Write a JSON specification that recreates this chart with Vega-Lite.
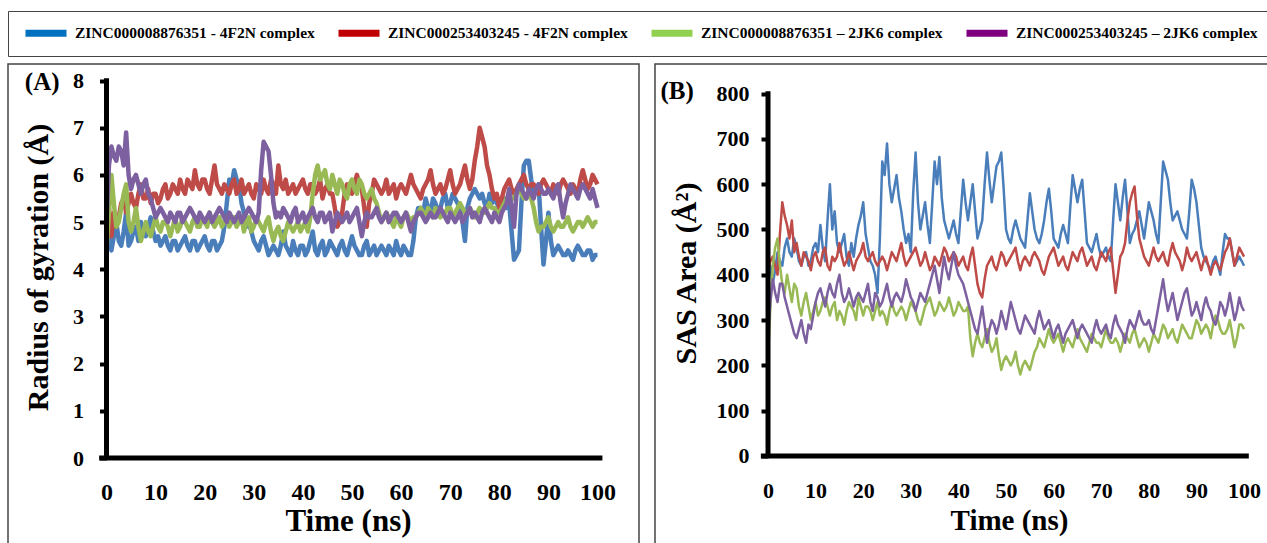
{
  "$schema": "https://vega.github.io/schema/vega-lite/v6.json",
  "padding": {"left": 7, "top": 10, "right": 0, "bottom": 0},
  "autosize": {"type": "pad"},
  "background": "white",
  "spacing": 14,
  "config": {
    "font": "Liberation Serif",
    "view": {"stroke": "#444444", "strokeWidth": 1.5},
    "axis": {
      "domain": false, "grid": false,
      "labelFont": "Liberation Serif", "labelFontWeight": "bold", "labelColor": "black",
      "titleFont": "Liberation Serif", "titleFontWeight": "bold", "titleColor": "black",
      "tickColor": "black", "labelFlush": false, "labelOverlap": false
    }
  },
  "datasets": {
    "names": [
      {"k": "b", "name": "ZINC000008876351 - 4F2N complex"},
      {"k": "r", "name": "ZINC000253403245 - 4F2N complex"},
      {"k": "g", "name": "ZINC000008876351 – 2JK6 complex"},
      {"k": "p", "name": "ZINC000253403245 – 2JK6 complex"}
    ],
    "rg": [
      {"t":0,"b":4.6,"r":5.0,"g":4.4,"p":5.0},{"t":1,"b":4.4,"r":4.7,"g":6.0,"p":6.6},{"t":2,"b":5.0,"r":4.9,"g":4.9,"p":6.3},{"t":3,"b":4.5,"r":5.4,"g":5.3,"p":6.5},{"t":4,"b":5.2,"r":5.2,"g":5.8,"p":6.9},
      {"t":5,"b":4.6,"r":5.6,"g":4.8,"p":5.7},{"t":6,"b":4.9,"r":5.3,"g":5.3,"p":6.0},{"t":7,"b":5.0,"r":5.8,"g":4.6,"p":5.6},{"t":8,"b":4.7,"r":5.5,"g":5.0,"p":5.9},{"t":9,"b":5.1,"r":5.4,"g":4.7,"p":5.5},
      {"t":10,"b":4.6,"r":5.6,"g":5.1,"p":5.1},{"t":11,"b":4.5,"r":5.5,"g":4.8,"p":5.3},{"t":12,"b":4.7,"r":5.8,"g":5.0,"p":5.1},{"t":13,"b":4.4,"r":5.6,"g":4.7,"p":5.2},{"t":14,"b":4.6,"r":5.7,"g":5.1,"p":5.0},
      {"t":15,"b":4.5,"r":5.9,"g":4.9,"p":5.2},{"t":16,"b":4.7,"r":5.6,"g":5.0,"p":5.1},{"t":17,"b":4.4,"r":5.8,"g":4.8,"p":5.3},{"t":18,"b":4.6,"r":6.1,"g":5.1,"p":5.1},{"t":19,"b":4.5,"r":5.7,"g":4.9,"p":5.2},
      {"t":20,"b":4.7,"r":5.9,"g":5.0,"p":5.0},{"t":21,"b":4.4,"r":5.6,"g":5.2,"p":5.2},{"t":22,"b":4.6,"r":6.2,"g":4.9,"p":5.1},{"t":23,"b":4.5,"r":5.7,"g":5.1,"p":5.3},{"t":24,"b":4.9,"r":5.8,"g":5.0,"p":5.1},
      {"t":25,"b":5.9,"r":5.6,"g":4.9,"p":5.2},{"t":26,"b":6.1,"r":5.9,"g":5.1,"p":5.0},{"t":27,"b":5.8,"r":5.7,"g":5.0,"p":5.2},{"t":28,"b":5.2,"r":5.6,"g":4.8,"p":5.1},{"t":29,"b":5.0,"r":5.8,"g":5.1,"p":5.3},
      {"t":30,"b":4.6,"r":5.5,"g":4.9,"p":5.1},{"t":31,"b":4.4,"r":5.7,"g":5.0,"p":5.2},{"t":32,"b":4.7,"r":5.9,"g":4.8,"p":6.7},{"t":33,"b":4.3,"r":5.6,"g":5.1,"p":6.5},{"t":34,"b":4.5,"r":5.8,"g":4.6,"p":5.4},
      {"t":35,"b":4.3,"r":6.2,"g":4.9,"p":5.2},{"t":36,"b":4.8,"r":5.7,"g":4.6,"p":5.3},{"t":37,"b":4.4,"r":5.6,"g":5.0,"p":5.1},{"t":38,"b":4.6,"r":5.8,"g":4.8,"p":5.2},{"t":39,"b":4.3,"r":5.7,"g":5.0,"p":5.0},
      {"t":40,"b":4.5,"r":5.9,"g":4.9,"p":5.2},{"t":41,"b":4.4,"r":5.6,"g":4.8,"p":5.1},{"t":42,"b":4.8,"r":5.8,"g":5.6,"p":5.3},{"t":43,"b":4.3,"r":5.7,"g":6.2,"p":5.0},{"t":44,"b":4.6,"r":5.5,"g":6.0,"p":5.2},
      {"t":45,"b":4.4,"r":5.8,"g":5.8,"p":5.1},{"t":46,"b":4.5,"r":5.6,"g":6.0,"p":4.8},{"t":47,"b":4.3,"r":4.9,"g":5.6,"p":5.2},{"t":48,"b":4.6,"r":5.2,"g":5.8,"p":5.0},{"t":49,"b":4.3,"r":5.8,"g":5.5,"p":5.2},
      {"t":50,"b":4.7,"r":5.6,"g":5.9,"p":5.1},{"t":51,"b":4.4,"r":6.0,"g":5.6,"p":5.3},{"t":52,"b":4.3,"r":5.7,"g":5.8,"p":4.7},{"t":53,"b":4.6,"r":4.9,"g":5.5,"p":5.2},{"t":54,"b":4.4,"r":5.6,"g":5.7,"p":5.1},
      {"t":55,"b":4.3,"r":5.8,"g":5.4,"p":5.3},{"t":56,"b":4.5,"r":5.6,"g":5.0,"p":5.0},{"t":57,"b":4.3,"r":5.9,"g":5.2,"p":5.2},{"t":58,"b":4.4,"r":5.7,"g":5.0,"p":5.1},{"t":59,"b":4.6,"r":5.5,"g":5.1,"p":5.2},
      {"t":60,"b":4.3,"r":5.8,"g":4.9,"p":5.0},{"t":61,"b":4.4,"r":5.6,"g":5.2,"p":5.2},{"t":62,"b":4.3,"r":6.0,"g":5.0,"p":4.8},{"t":63,"b":5.1,"r":5.7,"g":5.1,"p":5.1},{"t":64,"b":5.3,"r":5.5,"g":5.3,"p":5.2},
      {"t":65,"b":5.5,"r":5.8,"g":5.1,"p":5.0},{"t":66,"b":5.2,"r":6.1,"g":5.2,"p":5.2},{"t":67,"b":5.4,"r":5.6,"g":5.3,"p":5.1},{"t":68,"b":5.3,"r":5.8,"g":5.1,"p":5.3},{"t":69,"b":5.6,"r":5.7,"g":5.2,"p":5.1},
      {"t":70,"b":5.4,"r":6.1,"g":5.3,"p":5.2},{"t":71,"b":5.5,"r":5.6,"g":5.2,"p":5.0},{"t":72,"b":5.3,"r":5.8,"g":5.4,"p":5.2},{"t":73,"b":4.6,"r":6.2,"g":5.2,"p":5.1},{"t":74,"b":5.5,"r":5.7,"g":5.3,"p":5.3},
      {"t":75,"b":5.7,"r":6.3,"g":5.1,"p":5.2},{"t":76,"b":5.5,"r":7.0,"g":5.3,"p":5.0},{"t":77,"b":5.4,"r":6.6,"g":5.2,"p":5.3},{"t":78,"b":5.6,"r":6.0,"g":5.4,"p":5.1},{"t":79,"b":5.5,"r":5.5,"g":5.3,"p":5.2},
      {"t":80,"b":5.3,"r":5.3,"g":5.2,"p":5.0},{"t":81,"b":5.5,"r":5.7,"g":5.4,"p":5.3},{"t":82,"b":5.4,"r":5.9,"g":5.6,"p":5.7},{"t":83,"b":4.2,"r":5.6,"g":5.5,"p":4.9},{"t":84,"b":4.4,"r":5.8,"g":5.7,"p":5.8},
      {"t":85,"b":6.2,"r":6.0,"g":5.5,"p":5.6},{"t":86,"b":6.3,"r":5.7,"g":5.6,"p":5.7},{"t":87,"b":5.6,"r":5.8,"g":5.3,"p":5.5},{"t":88,"b":5.8,"r":5.6,"g":4.8,"p":5.8},{"t":89,"b":4.1,"r":5.9,"g":4.9,"p":5.6},
      {"t":90,"b":5.2,"r":5.7,"g":5.1,"p":5.7},{"t":91,"b":4.3,"r":5.8,"g":4.8,"p":5.5},{"t":92,"b":4.5,"r":5.6,"g":5.0,"p":5.8},{"t":93,"b":4.3,"r":5.9,"g":4.9,"p":5.1},{"t":94,"b":4.4,"r":5.7,"g":5.1,"p":5.6},
      {"t":95,"b":4.2,"r":5.8,"g":4.8,"p":5.7},{"t":96,"b":4.5,"r":5.6,"g":5.0,"p":5.5},{"t":97,"b":4.3,"r":6.1,"g":4.9,"p":5.8},{"t":98,"b":4.4,"r":5.7,"g":5.1,"p":5.6},{"t":99,"b":4.2,"r":6.0,"g":4.9,"p":5.7},
      {"t":100,"b":4.3,"r":5.8,"g":5.0,"p":5.3},
      {"t":0.5,"b":4.9,"r":5.3,"g":5.2,"p":6.2},{"t":1.5,"b":4.7,"r":5.2,"g":5.4,"p":6.4},{"t":2.5,"b":4.6,"r":5.1,"g":5.0,"p":6.6},{"t":3.5,"b":4.8,"r":5.5,"g":5.6,"p":6.2},{"t":4.5,"b":4.5,"r":5.4,"g":5.0,"p":6.0},
      {"t":5.5,"b":4.8,"r":5.4,"g":5.0,"p":5.9},{"t":6.5,"b":4.6,"r":5.6,"g":4.9,"p":5.8},{"t":7.5,"b":4.8,"r":5.5,"g":4.8,"p":5.8},{"t":8.5,"b":4.9,"r":5.7,"g":4.8,"p":5.6},{"t":9.5,"b":4.8,"r":5.6,"g":4.9,"p":5.3},
      {"t":10.5,"b":4.7,"r":5.4,"g":4.9,"p":5.2},{"t":11.5,"b":4.6,"r":5.7,"g":5.0,"p":5.2},{"t":12.5,"b":4.5,"r":5.5,"g":4.9,"p":5.0},{"t":13.5,"b":4.6,"r":5.8,"g":4.9,"p":5.1},{"t":14.5,"b":4.4,"r":5.6,"g":4.8,"p":5.2},
      {"t":15.5,"b":4.6,"r":5.7,"g":5.1,"p":5.0},{"t":16.5,"b":4.5,"r":5.9,"g":4.9,"p":5.2},{"t":17.5,"b":4.6,"r":5.7,"g":5.0,"p":5.2},{"t":18.5,"b":4.4,"r":5.8,"g":4.9,"p":5.0},{"t":19.5,"b":4.6,"r":5.9,"g":5.1,"p":5.1},
      {"t":20.5,"b":4.5,"r":5.7,"g":4.9,"p":5.1},{"t":21.5,"b":4.6,"r":5.9,"g":5.0,"p":5.0},{"t":22.5,"b":4.4,"r":5.8,"g":5.0,"p":5.2},{"t":23.5,"b":4.6,"r":5.6,"g":4.9,"p":5.2},{"t":24.5,"b":5.4,"r":5.7,"g":5.1,"p":5.0},
      {"t":25.5,"b":5.8,"r":5.8,"g":5.0,"p":5.1},{"t":26.5,"b":5.9,"r":5.6,"g":4.9,"p":5.1},{"t":27.5,"b":5.4,"r":5.9,"g":5.1,"p":5.0},{"t":28.5,"b":4.9,"r":5.7,"g":5.0,"p":5.2},{"t":29.5,"b":4.8,"r":5.6,"g":4.8,"p":5.2},
      {"t":30.5,"b":4.5,"r":5.8,"g":5.1,"p":5.0},{"t":31.5,"b":4.6,"r":5.6,"g":4.9,"p":6.1},{"t":32.5,"b":4.5,"r":5.7,"g":5.0,"p":6.6},{"t":33.5,"b":4.4,"r":5.9,"g":4.8,"p":6.0},{"t":34.5,"b":4.4,"r":5.6,"g":4.8,"p":5.1},
      {"t":35.5,"b":4.5,"r":5.8,"g":4.7,"p":5.1},{"t":36.5,"b":4.5,"r":5.9,"g":4.8,"p":5.2},{"t":37.5,"b":4.3,"r":5.7,"g":4.9,"p":5.0},{"t":38.5,"b":4.4,"r":5.6,"g":4.9,"p":5.3},{"t":39.5,"b":4.5,"r":5.8,"g":4.8,"p":5.1},
      {"t":40.5,"b":4.3,"r":5.7,"g":5.0,"p":5.0},{"t":41.5,"b":4.6,"r":5.8,"g":5.1,"p":5.2},{"t":42.5,"b":4.4,"r":5.6,"g":6.0,"p":5.1},{"t":43.5,"b":4.5,"r":5.9,"g":5.9,"p":5.2},{"t":44.5,"b":4.3,"r":5.7,"g":6.1,"p":5.0},
      {"t":45.5,"b":4.6,"r":5.6,"g":5.7,"p":5.2},{"t":46.5,"b":4.4,"r":5.3,"g":5.8,"p":5.0},{"t":47.5,"b":4.5,"r":5.0,"g":5.9,"p":5.1},{"t":48.5,"b":4.4,"r":5.6,"g":5.6,"p":5.1},{"t":49.5,"b":4.5,"r":5.7,"g":5.8,"p":5.0},
      {"t":50.5,"b":4.5,"r":5.8,"g":5.7,"p":5.2},{"t":51.5,"b":4.3,"r":5.8,"g":5.9,"p":5.0},{"t":52.5,"b":4.5,"r":5.3,"g":5.6,"p":5.0},{"t":53.5,"b":4.3,"r":5.4,"g":5.6,"p":5.1},{"t":54.5,"b":4.5,"r":5.9,"g":5.5,"p":5.2},
      {"t":55.5,"b":4.4,"r":5.7,"g":5.2,"p":5.1},{"t":56.5,"b":4.4,"r":5.7,"g":5.1,"p":5.1},{"t":57.5,"b":4.5,"r":5.6,"g":5.1,"p":5.0},{"t":58.5,"b":4.3,"r":5.8,"g":4.9,"p":5.2},{"t":59.5,"b":4.4,"r":5.7,"g":5.0,"p":5.1},
      {"t":60.5,"b":4.5,"r":5.7,"g":5.1,"p":5.1},{"t":61.5,"b":4.3,"r":5.8,"g":5.1,"p":5.0},{"t":62.5,"b":4.6,"r":5.8,"g":5.1,"p":5.0},{"t":63.5,"b":5.3,"r":5.6,"g":5.2,"p":5.2},{"t":64.5,"b":5.2,"r":5.7,"g":5.2,"p":5.1},
      {"t":65.5,"b":5.3,"r":5.9,"g":5.3,"p":5.1},{"t":66.5,"b":5.5,"r":5.8,"g":5.1,"p":5.1},{"t":67.5,"b":5.2,"r":5.7,"g":5.2,"p":5.2},{"t":68.5,"b":5.5,"r":5.6,"g":5.2,"p":5.2},{"t":69.5,"b":5.3,"r":5.9,"g":5.3,"p":5.0},
      {"t":70.5,"b":5.6,"r":5.8,"g":5.1,"p":5.1},{"t":71.5,"b":5.4,"r":5.7,"g":5.3,"p":5.1},{"t":72.5,"b":5.0,"r":6.0,"g":5.3,"p":5.0},{"t":73.5,"b":5.3,"r":5.9,"g":5.2,"p":5.2},{"t":74.5,"b":5.6,"r":5.9,"g":5.2,"p":5.1},
      {"t":75.5,"b":5.6,"r":6.6,"g":5.2,"p":5.1},{"t":76.5,"b":5.6,"r":6.8,"g":5.2,"p":5.2},{"t":77.5,"b":5.3,"r":6.2,"g":5.3,"p":5.2},{"t":78.5,"b":5.4,"r":5.7,"g":5.3,"p":5.0},{"t":79.5,"b":5.4,"r":5.6,"g":5.2,"p":5.1},
      {"t":80.5,"b":5.4,"r":5.5,"g":5.3,"p":5.2},{"t":81.5,"b":5.3,"r":5.8,"g":5.5,"p":5.4},{"t":82.5,"b":4.8,"r":5.7,"g":5.5,"p":5.3},{"t":83.5,"b":4.3,"r":5.7,"g":5.6,"p":5.6},{"t":84.5,"b":5.4,"r":5.9,"g":5.6,"p":5.7},
      {"t":85.5,"b":6.3,"r":5.8,"g":5.5,"p":5.5},{"t":86.5,"b":5.9,"r":5.8,"g":5.5,"p":5.6},{"t":87.5,"b":5.7,"r":5.7,"g":5.0,"p":5.7},{"t":88.5,"b":4.9,"r":5.8,"g":4.9,"p":5.7},{"t":89.5,"b":4.6,"r":5.8,"g":5.0,"p":5.6},
      {"t":90.5,"b":4.6,"r":5.6,"g":4.9,"p":5.6},{"t":91.5,"b":4.4,"r":5.7,"g":4.9,"p":5.7},{"t":92.5,"b":4.4,"r":5.8,"g":4.9,"p":5.4},{"t":93.5,"b":4.3,"r":5.8,"g":5.0,"p":5.4},{"t":94.5,"b":4.3,"r":5.6,"g":4.9,"p":5.8},
      {"t":95.5,"b":4.4,"r":5.7,"g":4.9,"p":5.6},{"t":96.5,"b":4.4,"r":5.9,"g":5.0,"p":5.7},{"t":97.5,"b":4.3,"r":5.9,"g":5.0,"p":5.7},{"t":98.5,"b":4.4,"r":5.8,"g":5.0,"p":5.5},{"t":99.5,"b":4.3,"r":5.9,"g":5.0,"p":5.5}
    ],
    "sas": [
      {"t":0,"b":400,"r":410,"g":210,"p":260},{"t":1,"b":380,"r":440,"g":420,"p":390},{"t":2,"b":450,"r":400,"g":480,"p":340},{"t":3,"b":420,"r":560,"g":380,"p":380},{"t":4,"b":480,"r":510,"g":400,"p":330},
      {"t":5,"b":440,"r":520,"g":340,"p":290},{"t":6,"b":460,"r":470,"g":370,"p":260},{"t":7,"b":420,"r":420,"g":310,"p":300},{"t":8,"b":450,"r":440,"g":360,"p":250},{"t":9,"b":430,"r":410,"g":300,"p":280},
      {"t":10,"b":470,"r":450,"g":340,"p":340},{"t":11,"b":510,"r":420,"g":320,"p":370},{"t":12,"b":430,"r":460,"g":350,"p":330},{"t":13,"b":600,"r":410,"g":310,"p":380},{"t":14,"b":540,"r":430,"g":340,"p":350},
      {"t":15,"b":450,"r":470,"g":320,"p":400},{"t":16,"b":490,"r":420,"g":290,"p":340},{"t":17,"b":420,"r":450,"g":340,"p":370},{"t":18,"b":440,"r":410,"g":320,"p":330},{"t":19,"b":510,"r":440,"g":350,"p":360},
      {"t":20,"b":560,"r":470,"g":310,"p":340},{"t":21,"b":460,"r":430,"g":330,"p":380},{"t":22,"b":420,"r":450,"g":300,"p":320},{"t":23,"b":360,"r":420,"g":340,"p":350},{"t":24,"b":650,"r":440,"g":320,"p":340},
      {"t":25,"b":690,"r":410,"g":290,"p":380},{"t":26,"b":560,"r":450,"g":340,"p":330},{"t":27,"b":620,"r":430,"g":310,"p":360},{"t":28,"b":540,"r":470,"g":330,"p":340},{"t":29,"b":470,"r":420,"g":300,"p":390},
      {"t":30,"b":450,"r":440,"g":340,"p":350},{"t":31,"b":670,"r":460,"g":320,"p":320},{"t":32,"b":500,"r":420,"g":290,"p":360},{"t":33,"b":560,"r":450,"g":330,"p":340},{"t":34,"b":470,"r":410,"g":350,"p":380},
      {"t":35,"b":650,"r":440,"g":310,"p":420},{"t":36,"b":660,"r":420,"g":340,"p":360},{"t":37,"b":520,"r":460,"g":320,"p":440},{"t":38,"b":480,"r":430,"g":350,"p":390},{"t":39,"b":520,"r":450,"g":310,"p":450},
      {"t":40,"b":470,"r":420,"g":340,"p":400},{"t":41,"b":610,"r":440,"g":320,"p":380},{"t":42,"b":520,"r":410,"g":330,"p":340},{"t":43,"b":600,"r":460,"g":220,"p":300},{"t":44,"b":480,"r":380,"g":270,"p":270},
      {"t":45,"b":520,"r":350,"g":240,"p":330},{"t":46,"b":670,"r":420,"g":280,"p":250},{"t":47,"b":560,"r":440,"g":230,"p":300},{"t":48,"b":640,"r":410,"g":260,"p":270},{"t":49,"b":670,"r":450,"g":190,"p":320},
      {"t":50,"b":500,"r":420,"g":220,"p":280},{"t":51,"b":470,"r":440,"g":200,"p":340},{"t":52,"b":520,"r":460,"g":230,"p":300},{"t":53,"b":480,"r":410,"g":180,"p":270},{"t":54,"b":460,"r":440,"g":210,"p":310},
      {"t":55,"b":580,"r":420,"g":190,"p":290},{"t":56,"b":500,"r":450,"g":230,"p":270},{"t":57,"b":470,"r":430,"g":260,"p":320},{"t":58,"b":520,"r":400,"g":240,"p":280},{"t":59,"b":590,"r":440,"g":280,"p":300},
      {"t":60,"b":480,"r":460,"g":250,"p":260},{"t":61,"b":460,"r":420,"g":270,"p":290},{"t":62,"b":510,"r":440,"g":230,"p":250},{"t":63,"b":470,"r":410,"g":260,"p":280},{"t":64,"b":620,"r":450,"g":240,"p":300},
      {"t":65,"b":560,"r":430,"g":280,"p":260},{"t":66,"b":610,"r":460,"g":250,"p":290},{"t":67,"b":470,"r":420,"g":230,"p":270},{"t":68,"b":450,"r":440,"g":270,"p":250},{"t":69,"b":490,"r":410,"g":250,"p":300},
      {"t":70,"b":440,"r":450,"g":240,"p":270},{"t":71,"b":460,"r":430,"g":280,"p":290},{"t":72,"b":430,"r":460,"g":250,"p":260},{"t":73,"b":600,"r":360,"g":260,"p":310},{"t":74,"b":520,"r":440,"g":230,"p":280},
      {"t":75,"b":610,"r":470,"g":270,"p":250},{"t":76,"b":470,"r":560,"g":250,"p":300},{"t":77,"b":500,"r":595,"g":280,"p":280},{"t":78,"b":540,"r":480,"g":240,"p":320},{"t":79,"b":480,"r":440,"g":260,"p":290},
      {"t":80,"b":560,"r":420,"g":230,"p":300},{"t":81,"b":520,"r":460,"g":270,"p":270},{"t":82,"b":470,"r":430,"g":250,"p":330},{"t":83,"b":650,"r":450,"g":290,"p":390},{"t":84,"b":610,"r":420,"g":260,"p":320},
      {"t":85,"b":520,"r":470,"g":280,"p":360},{"t":86,"b":540,"r":440,"g":250,"p":300},{"t":87,"b":500,"r":410,"g":290,"p":340},{"t":88,"b":480,"r":460,"g":270,"p":370},{"t":89,"b":610,"r":430,"g":260,"p":310},
      {"t":90,"b":560,"r":450,"g":300,"p":340},{"t":91,"b":460,"r":410,"g":270,"p":300},{"t":92,"b":430,"r":440,"g":290,"p":350},{"t":93,"b":410,"r":400,"g":260,"p":320},{"t":94,"b":440,"r":430,"g":310,"p":290},
      {"t":95,"b":400,"r":410,"g":280,"p":340},{"t":96,"b":490,"r":450,"g":270,"p":310},{"t":97,"b":480,"r":480,"g":300,"p":360},{"t":98,"b":420,"r":420,"g":240,"p":300},{"t":99,"b":440,"r":460,"g":290,"p":350},
      {"t":100,"b":420,"r":440,"g":280,"p":320},
      {"t":0.5,"b":420,"r":430,"g":330,"p":340},{"t":1.5,"b":410,"r":420,"g":460,"p":360},{"t":2.5,"b":430,"r":490,"g":420,"p":380},{"t":3.5,"b":460,"r":530,"g":360,"p":350},{"t":4.5,"b":450,"r":480,"g":370,"p":310},
      {"t":5.5,"b":480,"r":450,"g":380,"p":270},{"t":6.5,"b":430,"r":440,"g":330,"p":280},{"t":7.5,"b":440,"r":450,"g":340,"p":270},{"t":8.5,"b":420,"r":430,"g":330,"p":290},{"t":9.5,"b":460,"r":440,"g":320,"p":310},
      {"t":10.5,"b":450,"r":430,"g":310,"p":360},{"t":11.5,"b":460,"r":450,"g":340,"p":350},{"t":12.5,"b":520,"r":420,"g":330,"p":360},{"t":13.5,"b":500,"r":440,"g":330,"p":360},{"t":14.5,"b":470,"r":440,"g":300,"p":380},
      {"t":15.5,"b":470,"r":440,"g":310,"p":360},{"t":16.5,"b":440,"r":430,"g":320,"p":350},{"t":17.5,"b":470,"r":430,"g":330,"p":350},{"t":18.5,"b":480,"r":430,"g":300,"p":350},{"t":19.5,"b":530,"r":450,"g":330,"p":350},
      {"t":20.5,"b":490,"r":440,"g":330,"p":360},{"t":21.5,"b":430,"r":440,"g":320,"p":340},{"t":22.5,"b":400,"r":430,"g":320,"p":360},{"t":23.5,"b":480,"r":430,"g":310,"p":330},{"t":24.5,"b":620,"r":430,"g":310,"p":360},
      {"t":25.5,"b":600,"r":430,"g":320,"p":350},{"t":26.5,"b":590,"r":440,"g":320,"p":350},{"t":27.5,"b":570,"r":450,"g":320,"p":350},{"t":28.5,"b":500,"r":440,"g":320,"p":360},{"t":29.5,"b":490,"r":430,"g":320,"p":370},
      {"t":30.5,"b":580,"r":450,"g":330,"p":340},{"t":31.5,"b":560,"r":440,"g":300,"p":340},{"t":32.5,"b":530,"r":430,"g":310,"p":350},{"t":33.5,"b":510,"r":430,"g":340,"p":360},{"t":34.5,"b":560,"r":420,"g":330,"p":400},
      {"t":35.5,"b":600,"r":430,"g":320,"p":390},{"t":36.5,"b":570,"r":440,"g":330,"p":400},{"t":37.5,"b":500,"r":450,"g":330,"p":410},{"t":38.5,"b":500,"r":440,"g":330,"p":420},{"t":39.5,"b":490,"r":440,"g":320,"p":420},
      {"t":40.5,"b":540,"r":430,"g":330,"p":390},{"t":41.5,"b":560,"r":420,"g":320,"p":360},{"t":42.5,"b":560,"r":440,"g":260,"p":320},{"t":43.5,"b":540,"r":420,"g":250,"p":280},{"t":44.5,"b":500,"r":360,"g":250,"p":300},
      {"t":45.5,"b":600,"r":390,"g":260,"p":290},{"t":46.5,"b":610,"r":430,"g":250,"p":280},{"t":47.5,"b":600,"r":420,"g":240,"p":290},{"t":48.5,"b":650,"r":430,"g":220,"p":290},{"t":49.5,"b":590,"r":440,"g":210,"p":300},
      {"t":50.5,"b":480,"r":430,"g":210,"p":310},{"t":51.5,"b":500,"r":450,"g":210,"p":320},{"t":52.5,"b":500,"r":430,"g":200,"p":280},{"t":53.5,"b":470,"r":430,"g":200,"p":290},{"t":54.5,"b":520,"r":430,"g":200,"p":300},
      {"t":55.5,"b":540,"r":440,"g":210,"p":280},{"t":56.5,"b":480,"r":440,"g":240,"p":300},{"t":57.5,"b":490,"r":410,"g":250,"p":300},{"t":58.5,"b":560,"r":420,"g":260,"p":290},{"t":59.5,"b":540,"r":450,"g":260,"p":280},
      {"t":60.5,"b":470,"r":440,"g":260,"p":280},{"t":61.5,"b":490,"r":430,"g":250,"p":270},{"t":62.5,"b":490,"r":420,"g":250,"p":270},{"t":63.5,"b":550,"r":430,"g":250,"p":290},{"t":64.5,"b":590,"r":440,"g":260,"p":280},
      {"t":65.5,"b":590,"r":450,"g":260,"p":280},{"t":66.5,"b":540,"r":440,"g":240,"p":280},{"t":67.5,"b":460,"r":430,"g":250,"p":260},{"t":68.5,"b":470,"r":420,"g":260,"p":280},{"t":69.5,"b":460,"r":430,"g":250,"p":280},
      {"t":70.5,"b":450,"r":440,"g":260,"p":280},{"t":71.5,"b":440,"r":450,"g":260,"p":270},{"t":72.5,"b":520,"r":410,"g":250,"p":290},{"t":73.5,"b":560,"r":400,"g":250,"p":290},{"t":74.5,"b":570,"r":450,"g":250,"p":270},
      {"t":75.5,"b":540,"r":520,"g":260,"p":280},{"t":76.5,"b":490,"r":580,"g":270,"p":290},{"t":77.5,"b":520,"r":530,"g":260,"p":300},{"t":78.5,"b":510,"r":460,"g":250,"p":300},{"t":79.5,"b":520,"r":430,"g":250,"p":290},
      {"t":80.5,"b":540,"r":440,"g":250,"p":280},{"t":81.5,"b":490,"r":440,"g":260,"p":300},{"t":82.5,"b":560,"r":440,"g":270,"p":360},{"t":83.5,"b":630,"r":430,"g":280,"p":350},{"t":84.5,"b":560,"r":450,"g":270,"p":340},
      {"t":85.5,"b":530,"r":450,"g":260,"p":330},{"t":86.5,"b":520,"r":430,"g":270,"p":320},{"t":87.5,"b":490,"r":430,"g":280,"p":360},{"t":88.5,"b":540,"r":440,"g":260,"p":340},{"t":89.5,"b":590,"r":440,"g":280,"p":320},
      {"t":90.5,"b":510,"r":430,"g":290,"p":320},{"t":91.5,"b":440,"r":430,"g":280,"p":330},{"t":92.5,"b":420,"r":420,"g":280,"p":330},{"t":93.5,"b":430,"r":420,"g":290,"p":300},{"t":94.5,"b":420,"r":420,"g":300,"p":310},
      {"t":95.5,"b":450,"r":430,"g":270,"p":330},{"t":96.5,"b":480,"r":460,"g":280,"p":330},{"t":97.5,"b":450,"r":450,"g":270,"p":330},{"t":98.5,"b":430,"r":440,"g":260,"p":320},{"t":99.5,"b":430,"r":450,"g":290,"p":330}
    ]
  },
  "resolve": {"scale": {"color": "shared", "stroke": "shared"}},
  "hconcat": [
    {
      "width": 631,
      "height": 486,
      "layer": [
        {
          "data": {"name": "rg"},
          "transform": [
            {"fold": ["b", "r", "g", "p"], "as": ["k", "v"]}
          ],
          "mark": {"type": "line", "strokeWidth": 4.5, "strokeJoin": "round"},
          "encoding": {
            "x": {
              "field": "t", "type": "quantitative",
              "scale": {"domain": [-20.06, 108.45], "nice": false, "zero": false},
              "axis": {
                "title": "Time (ns)", "values": [0,10,20,30,40,50,60,70,80,90,100],
                "offset": -92, "ticks": false, "tickSize": 0, "labelPadding": 34,
                "labelBaseline": "middle", "labelFontSize": 24, "titleFontSize": 31,
                "titleX": 340, "titleY": 63, "titleBaseline": "middle", "titleAlign": "center"
              }
            },
            "y": {
              "field": "v", "type": "quantitative",
              "scale": {"domain": [-1.949, 8.35], "nice": false, "zero": false},
              "axis": {
                "title": "Radius of gyration (Å)", "values": [0,1,2,3,4,5,6,7,8],
                "offset": -98.5, "ticks": true, "tickSize": 7, "tickWidth": 4, "labelPadding": 16,
                "labelAlign": "right", "labelBaseline": "middle",
                "labelFontSize": 22, "titleFontSize": 30, "titleX": -68.5, "titleY": 203,
                "titleAngle": -90, "titleBaseline": "middle", "titleAlign": "center"
              }
            },
            "color": {
              "field": "k", "type": "nominal",
              "scale": {"domain": ["b", "r", "g", "p"], "range": ["#4a7ebb", "#be4b48", "#98b954", "#7d60a0"]},
              "legend": null
            }
          }
        },
        {
          "data": {"name": "names"},
          "mark": {"type": "line"},
          "encoding": {
            "x": {"datum": 0},
            "y": {"datum": 0},
            "stroke": {
              "field": "name", "type": "nominal",
              "scale": {
                "domain": ["ZINC000008876351 - 4F2N complex", "ZINC000253403245 - 4F2N complex", "ZINC000008876351 – 2JK6 complex", "ZINC000253403245 – 2JK6 complex"],
                "range": ["#0070c0", "#c00000", "#92d050", "#7f007f"]
              },
              "legend": {
                "title": null, "orient": "none", "legendX": 0, "legendY": -53,
                "direction": "horizontal", "columns": 4, "columnPadding": 20,
                "symbolType": "stroke", "symbolStrokeWidth": 7, "symbolSize": 1681, "clipHeight": 16,
                "labelFont": "Liberation Serif", "labelFontWeight": "bold", "labelFontSize": 15.5,
                "labelColor": "black", "labelLimit": 400, "labelOffset": 5,
                "padding": 14, "strokeColor": "#444444"
              }
            }
          }
        },
        {
          "data": {"values": [{}]},
          "mark": {"type": "rule", "strokeWidth": 5, "color": "black"},
          "encoding": {"x": {"datum": -1.5}, "x2": {"datum": 101}, "y": {"datum": 0}}
        },
        {
          "data": {"values": [{}]},
          "mark": {"type": "rule", "strokeWidth": 5, "color": "black"},
          "encoding": {"x": {"datum": 0}, "y": {"datum": 0}, "y2": {"datum": 8.05}}
        },
        {
          "data": {"values": [{"label": "(A)"}]},
          "mark": {"type": "text", "font": "Liberation Serif", "fontWeight": "bold", "fontSize": 25, "align": "center", "baseline": "middle", "color": "black"},
          "encoding": {"x": {"datum": -13.1}, "y": {"datum": 7.97}, "text": {"field": "label"}}
        }
      ]
    },
    {
      "width": 620,
      "height": 486,
      "layer": [
        {
          "data": {"name": "sas"},
          "transform": [
            {"fold": ["b", "r", "g", "p"], "as": ["k", "v"]}
          ],
          "mark": {"type": "line", "strokeWidth": 2.5, "strokeJoin": "round"},
          "encoding": {
            "x": {
              "field": "t", "type": "quantitative",
              "scale": {"domain": [-23.74, 106.5], "nice": false, "zero": false},
              "axis": {
                "title": "Time (ns)", "values": [0,10,20,30,40,50,60,70,80,90,100],
                "offset": -94, "ticks": false, "tickSize": 0, "labelPadding": 34,
                "labelBaseline": "middle", "labelFontSize": 22, "titleFontSize": 29,
                "titleX": 354, "titleY": 64, "titleBaseline": "middle", "titleAlign": "center"
              }
            },
            "y": {
              "field": "v", "type": "quantitative",
              "scale": {"domain": [-207.5, 865.3], "nice": false, "zero": false},
              "axis": {
                "title": "SAS Area (Å²)", "values": [0,100,200,300,400,500,600,700,800],
                "offset": -113, "ticks": true, "tickSize": 7, "tickWidth": 4, "labelPadding": 12,
                "labelAlign": "right", "labelBaseline": "middle",
                "labelFontSize": 22, "titleFontSize": 30, "titleX": -82, "titleY": 209,
                "titleAngle": -90, "titleBaseline": "middle", "titleAlign": "center"
              }
            },
            "color": {
              "field": "k", "type": "nominal",
              "scale": {"domain": ["b", "r", "g", "p"], "range": ["#4a7ebb", "#be4b48", "#98b954", "#7d60a0"]},
              "legend": null
            }
          }
        },
        {
          "data": {"values": [{}]},
          "mark": {"type": "rule", "strokeWidth": 5, "color": "black"},
          "encoding": {"x": {"datum": -1.5}, "x2": {"datum": 101}, "y": {"datum": 0}}
        },
        {
          "data": {"values": [{}]},
          "mark": {"type": "rule", "strokeWidth": 5, "color": "black"},
          "encoding": {"x": {"datum": 0}, "y": {"datum": 0}, "y2": {"datum": 805}}
        },
        {
          "data": {"values": [{"label": "(B)"}]},
          "mark": {"type": "text", "font": "Liberation Serif", "fontWeight": "bold", "fontSize": 25, "align": "center", "baseline": "middle", "color": "black"},
          "encoding": {"x": {"datum": -19.1}, "y": {"datum": 806}, "text": {"field": "label"}}
        }
      ]
    }
  ]
}
